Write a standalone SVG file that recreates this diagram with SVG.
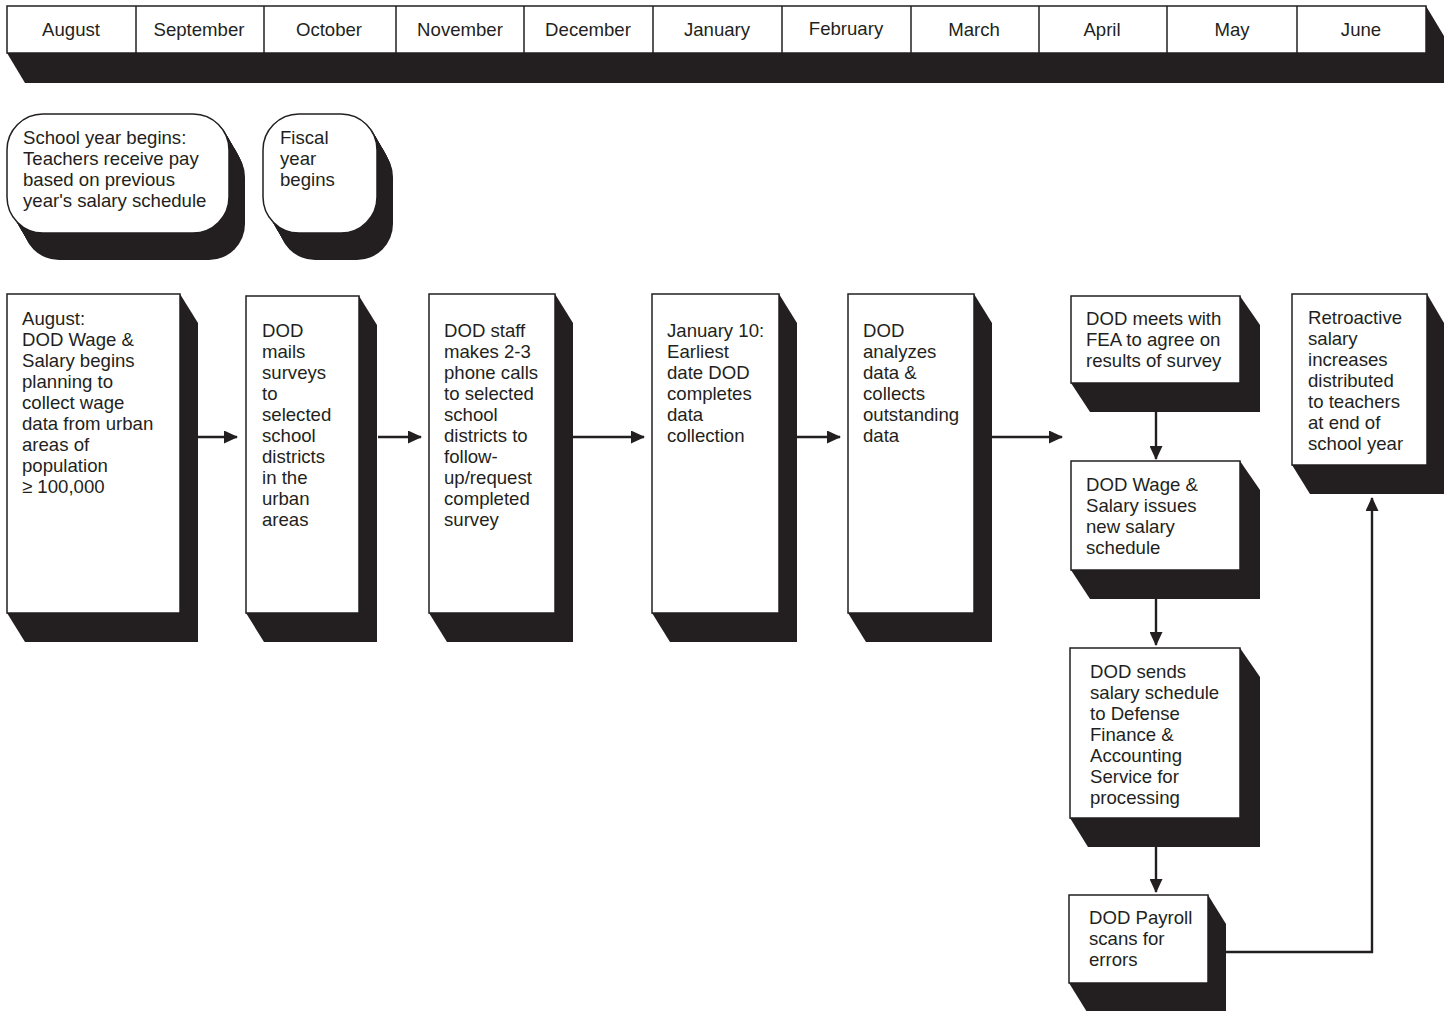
<svg xmlns="http://www.w3.org/2000/svg" xmlns:xlink="http://www.w3.org/1999/xlink" width="1449" height="1011" viewBox="0 0 1449 1011">
<style>
text{font-family:"Liberation Sans",Arial,sans-serif;font-size:18.6px;fill:#231f20}
.m{text-anchor:middle}
.box{fill:#fff;stroke:#231f20;stroke-width:1.5}
.sh{fill:#231f20}
.ln{fill:none;stroke:#231f20;stroke-width:2.4}
</style>
<defs>
<marker id="ah" markerWidth="14" markerHeight="13" refX="13" refY="6.5" orient="auto" markerUnits="userSpaceOnUse">
<path d="M0,0 L14,6.5 L0,13 Z" fill="#231f20"/>
</marker>
<rect id="r1" width="222" height="119" rx="36" ry="36"/>
<rect id="r2" width="114" height="119" rx="36" ry="36"/>
</defs>

<g id="header">
<polygon class="sh" points="7,53 25,83 1444,83 1444,36 1426,6"/>
<rect class="box" x="7" y="6" width="1419" height="47"/>
<g class="ln" style="stroke-width:1.5">
<line x1="136" y1="6" x2="136" y2="53"/><line x1="264" y1="6" x2="264" y2="53"/><line x1="396" y1="6" x2="396" y2="53"/><line x1="524" y1="6" x2="524" y2="53"/><line x1="653" y1="6" x2="653" y2="53"/><line x1="782" y1="6" x2="782" y2="53"/><line x1="911" y1="6" x2="911" y2="53"/><line x1="1039" y1="6" x2="1039" y2="53"/><line x1="1167" y1="6" x2="1167" y2="53"/><line x1="1297" y1="6" x2="1297" y2="53"/>
</g>
<text class="m" x="71" y="36">August</text>
<text class="m" x="199" y="36">September</text>
<text class="m" x="329" y="36">October</text>
<text class="m" x="460" y="36">November</text>
<text class="m" x="588" y="36">December</text>
<text class="m" x="717" y="36">January</text>
<text class="m" x="846" y="35">February</text>
<text class="m" x="974" y="36">March</text>
<text class="m" x="1102" y="36">April</text>
<text class="m" x="1232" y="36">May</text>
<text class="m" x="1361" y="36">June</text>
</g>

<g id="school-year">
<g class="sh">
<use xlink:href="#r1" x="8" y="115"/><use xlink:href="#r1" x="9" y="116"/><use xlink:href="#r1" x="10" y="118"/><use xlink:href="#r1" x="11" y="120"/><use xlink:href="#r1" x="12" y="121"/><use xlink:href="#r1" x="13" y="123"/><use xlink:href="#r1" x="14" y="125"/><use xlink:href="#r1" x="15" y="127"/><use xlink:href="#r1" x="16" y="128"/><use xlink:href="#r1" x="17" y="130"/><use xlink:href="#r1" x="18" y="132"/><use xlink:href="#r1" x="19" y="133"/><use xlink:href="#r1" x="20" y="135"/><use xlink:href="#r1" x="21" y="137"/><use xlink:href="#r1" x="22" y="139"/><use xlink:href="#r1" x="23" y="141"/>
</g>
<use class="box" xlink:href="#r1" x="7" y="114"/>
<text x="23" y="144">School year begins:</text>
<text x="23" y="165">Teachers receive pay</text>
<text x="23" y="186">based on previous</text>
<text x="23" y="207">year's salary schedule</text>
</g>

<g id="fiscal-year">
<g class="sh">
<use xlink:href="#r2" x="264" y="115"/><use xlink:href="#r2" x="265" y="116"/><use xlink:href="#r2" x="266" y="118"/><use xlink:href="#r2" x="267" y="120"/><use xlink:href="#r2" x="268" y="121"/><use xlink:href="#r2" x="269" y="123"/><use xlink:href="#r2" x="270" y="125"/><use xlink:href="#r2" x="271" y="127"/><use xlink:href="#r2" x="272" y="128"/><use xlink:href="#r2" x="273" y="130"/><use xlink:href="#r2" x="274" y="132"/><use xlink:href="#r2" x="275" y="133"/><use xlink:href="#r2" x="276" y="135"/><use xlink:href="#r2" x="277" y="137"/><use xlink:href="#r2" x="278" y="139"/><use xlink:href="#r2" x="279" y="141"/>
</g>
<use class="box" xlink:href="#r2" x="263" y="114"/>
<text x="280" y="144">Fiscal</text>
<text x="280" y="165">year</text>
<text x="280" y="186">begins</text>
</g>

<g id="n1">
<polygon class="sh" points="7,613 25,642 198,642 198,323 180,294"/>
<rect class="box" x="7" y="294" width="173" height="319"/>
<text x="22" y="325">August:</text>
<text x="22" y="346">DOD Wage &amp;</text>
<text x="22" y="367">Salary begins</text>
<text x="22" y="388">planning to</text>
<text x="22" y="409">collect wage</text>
<text x="22" y="430">data from urban</text>
<text x="22" y="451">areas of</text>
<text x="22" y="472">population</text>
<text x="22" y="493">≥ 100,000</text>
</g>

<g id="n2">
<polygon class="sh" points="246,613 264,642 377,642 377,325 359,296"/>
<rect class="box" x="246" y="296" width="113" height="317"/>
<text x="262" y="337">DOD</text>
<text x="262" y="358">mails</text>
<text x="262" y="379">surveys</text>
<text x="262" y="400">to</text>
<text x="262" y="421">selected</text>
<text x="262" y="442">school</text>
<text x="262" y="463">districts</text>
<text x="262" y="484">in the</text>
<text x="262" y="505">urban</text>
<text x="262" y="526">areas</text>
</g>

<g id="n3">
<polygon class="sh" points="429,613 447,642 573,642 573,323 555,294"/>
<rect class="box" x="429" y="294" width="126" height="319"/>
<text x="444" y="337">DOD staff</text>
<text x="444" y="358">makes 2-3</text>
<text x="444" y="379">phone calls</text>
<text x="444" y="400">to selected</text>
<text x="444" y="421">school</text>
<text x="444" y="442">districts to</text>
<text x="444" y="463">follow-</text>
<text x="444" y="484">up/request</text>
<text x="444" y="505">completed</text>
<text x="444" y="526">survey</text>
</g>

<g id="n4">
<polygon class="sh" points="652,613 670,642 797,642 797,323 779,294"/>
<rect class="box" x="652" y="294" width="127" height="319"/>
<text x="667" y="337">January 10:</text>
<text x="667" y="358">Earliest</text>
<text x="667" y="379">date DOD</text>
<text x="667" y="400">completes</text>
<text x="667" y="421">data</text>
<text x="667" y="442">collection</text>
</g>

<g id="n5">
<polygon class="sh" points="848,613 866,642 992,642 992,323 974,294"/>
<rect class="box" x="848" y="294" width="126" height="319"/>
<text x="863" y="337">DOD</text>
<text x="863" y="358">analyzes</text>
<text x="863" y="379">data &amp;</text>
<text x="863" y="400">collects</text>
<text x="863" y="421">outstanding</text>
<text x="863" y="442">data</text>
</g>

<g id="n6">
<polygon class="sh" points="1071,383 1090,412 1260,412 1260,325 1240,296"/>
<rect class="box" x="1071" y="296" width="169" height="87"/>
<text x="1086" y="325">DOD meets with</text>
<text x="1086" y="346">FEA to agree on</text>
<text x="1086" y="367">results of survey</text>
</g>

<g id="n7">
<polygon class="sh" points="1071,570 1090,599 1260,599 1260,490 1240,461"/>
<rect class="box" x="1071" y="461" width="169" height="109"/>
<text x="1086" y="491">DOD Wage &amp;</text>
<text x="1086" y="512">Salary issues</text>
<text x="1086" y="533">new salary</text>
<text x="1086" y="554">schedule</text>
</g>

<g id="n8">
<polygon class="sh" points="1070,818 1088,847 1260,847 1260,677 1240,648"/>
<rect class="box" x="1070" y="648" width="170" height="170"/>
<text x="1090" y="678">DOD sends</text>
<text x="1090" y="699">salary schedule</text>
<text x="1090" y="720">to Defense</text>
<text x="1090" y="741">Finance &amp;</text>
<text x="1090" y="762">Accounting</text>
<text x="1090" y="783">Service for</text>
<text x="1090" y="804">processing</text>
</g>

<g id="n9">
<polygon class="sh" points="1069,983 1087,1012 1226,1012 1226,924 1208,895"/>
<rect class="box" x="1069" y="895" width="139" height="88"/>
<text x="1089" y="924">DOD Payroll</text>
<text x="1089" y="945">scans for</text>
<text x="1089" y="966">errors</text>
</g>

<g id="n10">
<polygon class="sh" points="1292,465 1310,494 1444,494 1444,323 1427,294"/>
<rect class="box" x="1292" y="294" width="135" height="171"/>
<text x="1308" y="324">Retroactive</text>
<text x="1308" y="345">salary</text>
<text x="1308" y="366">increases</text>
<text x="1308" y="387">distributed</text>
<text x="1308" y="408">to teachers</text>
<text x="1308" y="429">at end of</text>
<text x="1308" y="450">school year</text>
</g>

<g id="connectors" class="ln">
<line x1="198" y1="437" x2="237" y2="437" marker-end="url(#ah)"/>
<line x1="378" y1="437" x2="421" y2="437" marker-end="url(#ah)"/>
<line x1="573" y1="437" x2="644" y2="437" marker-end="url(#ah)"/>
<line x1="797" y1="437" x2="840" y2="437" marker-end="url(#ah)"/>
<line x1="992" y1="437" x2="1062" y2="437" marker-end="url(#ah)"/>
<line x1="1156" y1="412" x2="1156" y2="459" marker-end="url(#ah)"/>
<line x1="1156" y1="599" x2="1156" y2="645" marker-end="url(#ah)"/>
<line x1="1156" y1="847" x2="1156" y2="892" marker-end="url(#ah)"/>
<polyline points="1226,952 1372,952 1372,498" marker-end="url(#ah)"/>
</g>
</svg>
